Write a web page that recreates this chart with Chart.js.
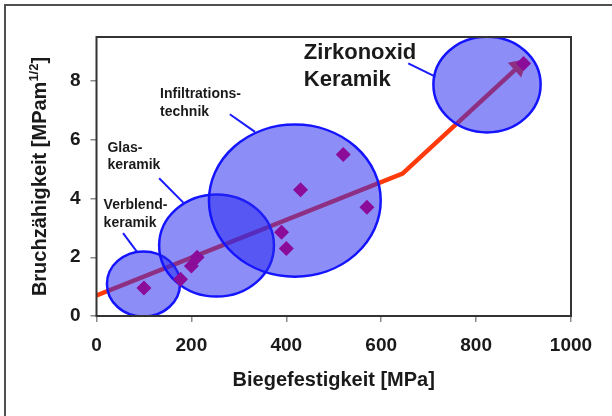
<!DOCTYPE html>
<html>
<head>
<meta charset="utf-8">
<script src="https://cdn.jsdelivr.net/npm/chart.js@4.4.1/dist/chart.umd.min.js"></script>
<style>
  html, body { margin: 0; padding: 0; background: #fff; }
  #wrap { position: relative; width: 612px; height: 416px; overflow: hidden; }
  #frame { position: absolute; left: 4px; top: 4px; right: -10px; bottom: -10px;
           border-left: 2px solid #505050; border-top: 2px solid #505050; }
  canvas { position: absolute; left: 0; top: 0; }
</style>
</head>
<body>
<div id="wrap">
  <div id="frame"></div>
  <canvas id="chart" width="612" height="416"></canvas>
</div>
<script>
const xTicks = [0, 200, 400, 600, 800, 1000];
const yTicks = [0, 2, 4, 6, 8];

// measured samples (Biegefestigkeit MPa / Bruchzähigkeit)
const sampleX = [100, 177, 200, 212, 390, 400, 430, 520, 570, 900];
const sampleY = [0.95, 1.25, 1.7, 2.0, 2.85, 2.3, 4.3, 5.5, 3.7, 8.6];

// trend line
const trendX = [0, 645, 890];
const trendY = [0.7, 4.85, 8.5];

// material groups: centre and half extent in data units
const groupNames = [['Verblend-', 'keramik'], ['Glas-', 'keramik'], ['Infiltrations-', 'technik'], ['Zirkonoxid', 'Keramik']];
const groupX = [99, 253, 418, 823];
const groupY = [1.09, 2.4, 3.93, 7.88];
const groupHalfX = [77, 121, 181, 113];
const groupHalfY = [1.11, 1.74, 2.59, 1.63];

// where the group labels and their pointer lines sit (data units)
const labelX = [15, 23, 134, 437];
const labelY = [3.78, 5.73, 7.55, 8.96];
const pointerFrom = [[56, 2.82], [132, 4.69], [281, 6.87], [657, 8.6]];
const pointerTo = [[85, 2.19], [183, 3.86], [334, 6.27], [714, 8.15]];

const FONT = "'Liberation Sans', Arial, sans-serif";
const TEXT = '#1a1a1a';

const groupsPlugin = {
    id: 'groups',
    afterDatasetDraw(chart, args) {
        if (args.index !== 0) return;
        const { ctx, chartArea } = chart;
        const xs = chart.scales.x, ys = chart.scales.y;
        ctx.save();
        ctx.beginPath();
        ctx.rect(chartArea.left, chartArea.top, chartArea.width, chartArea.height);
        ctx.clip();
        groupX.forEach((gx, i) => {
            const cx = xs.getPixelForValue(gx);
            const cy = ys.getPixelForValue(groupY[i]);
            const rx = xs.getPixelForValue(gx + groupHalfX[i]) - cx;
            const ry = cy - ys.getPixelForValue(groupY[i] + groupHalfY[i]);
            ctx.beginPath();
            ctx.ellipse(cx, cy, rx, ry, 0, 0, Math.PI * 2);
            ctx.fillStyle = 'rgba(40, 40, 240, 0.53)';
            ctx.fill();
            ctx.lineWidth = 2.5;
            ctx.strokeStyle = '#1414ff';
            ctx.stroke();
        });
        ctx.restore();
    },
    afterDraw(chart) {
        const { ctx, chartArea } = chart;
        const xs = chart.scales.x, ys = chart.scales.y;
        ctx.save();
        // plot box
        ctx.lineWidth = 2;
        ctx.strokeStyle = '#333';
        ctx.strokeRect(chartArea.left, chartArea.top, chartArea.width, chartArea.height);

        // group labels
        ctx.fillStyle = TEXT;
        ctx.textAlign = 'left';
        ctx.textBaseline = 'middle';
        groupNames.forEach((lines, i) => {
            const big = i === 3;
            ctx.font = (big ? 'bold 22px ' : 'bold 14px ') + FONT;
            const step = big ? 27.3 : 17.7;
            const x = xs.getPixelForValue(labelX[i]);
            const y = ys.getPixelForValue(labelY[i]);
            lines.forEach((t, j) => ctx.fillText(t, x, y + j * step));
        });

        // y axis title with superscript
        const main = 'Bruchzähigkeit [MPam';
        const sup = '1/2';
        const end = ']';
        ctx.font = 'bold 20px ' + FONT;
        const w1 = ctx.measureText(main).width;
        const w3 = ctx.measureText(end).width;
        ctx.font = 'bold 13px ' + FONT;
        const w2 = ctx.measureText(sup).width;
        const total = w1 + w2 + w3;
        ctx.translate(ys.left + 39, (chartArea.top + chartArea.bottom) / 2);
        ctx.rotate(-Math.PI / 2);
        ctx.textBaseline = 'alphabetic';
        let x = -total / 2;
        ctx.font = 'bold 20px ' + FONT;
        ctx.fillText(main, x, 7);
        x += w1;
        ctx.font = 'bold 13px ' + FONT;
        ctx.fillText(sup, x, -1);
        x += w2;
        ctx.font = 'bold 20px ' + FONT;
        ctx.fillText(end, x, 7);
        ctx.restore();
    }
};

const trendSet = {
    data: trendX.map((x, i) => ({ x, y: trendY[i] })),
    showLine: true,
    borderColor: '#ff3a0a',
    backgroundColor: '#ff3a0a',
    borderWidth: 4.5,
    pointRadius: [0, 0, 7],
    pointStyle: 'triangle',
    rotation: 48,
    order: 3
};

const pointerSets = pointerFrom.map((p, i) => ({
    data: [{ x: p[0], y: p[1] }, { x: pointerTo[i][0], y: pointerTo[i][1] }],
    showLine: true,
    borderColor: '#1a1aff',
    borderWidth: 2,
    pointRadius: 0,
    order: 2
}));

const sampleSet = {
    data: sampleX.map((x, i) => ({ x, y: sampleY[i] })),
    pointStyle: 'rectRot',
    pointRadius: 7.5,
    backgroundColor: '#8b0c98',
    borderWidth: 0,
    order: 1
};

const tickFont = { family: FONT, size: 19, weight: 'bold' };
const gridStyle = { drawOnChartArea: false, tickLength: 6, color: '#8a8a8a', lineWidth: 1.5 };

new Chart(document.getElementById('chart').getContext('2d'), {
    type: 'scatter',
    data: { datasets: [trendSet, ...pointerSets, sampleSet] },
    options: {
        responsive: false,
        animation: false,
        layout: { padding: { top: 37, right: 41, left: 0, bottom: 0 } },
        plugins: { legend: { display: false }, tooltip: { enabled: false } },
        scales: {
            x: {
                type: 'linear', min: 0, max: 1000,
                afterBuildTicks: s => { s.ticks = xTicks.map(v => ({ value: v })); },
                afterFit: s => { s.height = 100; },
                ticks: { font: tickFont, color: TEXT, padding: 12, maxRotation: 0, callback: v => String(v) },
                grid: gridStyle,
                border: { display: false },
                title: {
                    display: true, text: 'Biegefestigkeit [MPa]', color: TEXT,
                    font: { family: FONT, size: 20, weight: 'bold' },
                    padding: { top: 0, bottom: 24 }
                }
            },
            y: {
                type: 'linear', min: 0, max: 9.5,
                afterBuildTicks: s => { s.ticks = yTicks.map(v => ({ value: v })); },
                afterFit: s => { s.width = 96.5; },
                ticks: { font: tickFont, color: TEXT, padding: 10, callback: v => String(v) },
                grid: gridStyle,
                border: { display: false }
            }
        }
    },
    plugins: [groupsPlugin]
});
</script>
</body>
</html>
